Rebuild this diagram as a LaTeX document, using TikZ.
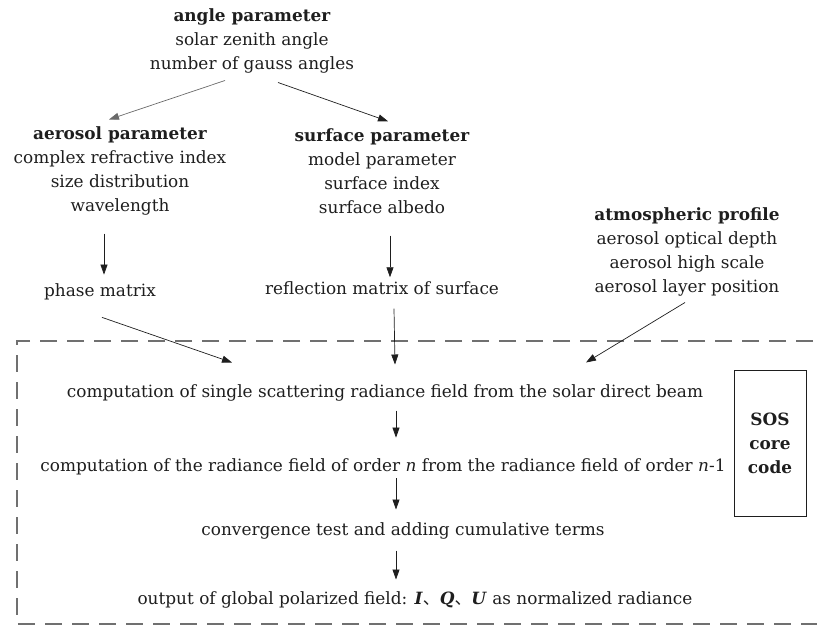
\documentclass[tikz,border=0pt]{standalone}
\usepackage{fontspec}
\setmainfont{DejaVu Serif}
\newfontfamily\cjk{Noto Sans CJK SC}
\usetikzlibrary{arrows.meta}
\definecolor{txt}{HTML}{1E1E1E}
\definecolor{dash}{HTML}{707070}
\definecolor{garr}{HTML}{6A6A6A}
\begin{document}
\begin{tikzpicture}[x=1pt,y=-1pt,
  every node/.style={inner sep=0pt,text=txt,font=\fontsize{16.9}{24}\selectfont,align=center},
  arr/.style={draw=txt,line width=0.7pt,-{Triangle[length=10pt,width=7pt]}},
  arrg/.style={arr,draw=garr,-{Triangle[length=10pt,width=7pt,fill=garr]}},
  dashbox/.style={draw=dash,line width=2pt,dash pattern=on 17pt off 10pt},
  sosbox/.style={draw=txt,line width=0.8pt,minimum width=72pt,minimum height=146pt}]
\useasboundingbox (0,0) rectangle (817,635);
\node (angle) at (252,41) {\textbf{angle parameter}\\solar zenith angle\\number of gauss angles};
\node (aero) at (120,171) {\textbf{aerosol parameter}\\complex refractive index\\size distribution\\wavelength};
\node (surf) at (382,171) {\textbf{surface parameter}\\model parameter\\surface index\\surface albedo};
\node (atm) at (687,252) {\textbf{atmospheric profile}\\aerosol optical depth\\aerosol high scale\\aerosol layer position};
\node (phase) at (100,292) {phase matrix};
\node (refl) at (382,288) {reflection matrix of surface};
\node (s1) at (385,393) {computation of single scattering radiance field from the solar direct beam};
\node (s2) at (383,467) {computation of the radiance field of order \textit{n} from the radiance field of order \textit{n}-1};
\node (s3) at (403,531) {convergence test and adding cumulative terms};
\node (s4) at (415,600) {output of global polarized field: \textbf{\textit{I}}{\cjk 、}\textbf{\textit{Q}}{\cjk 、}\textbf{\textit{U}} as normalized radiance};
\node[sosbox] (sos) at (770,443) {\textbf{SOS}\\\textbf{core}\\\textbf{code}};
\draw[dashbox] (840,341) -- (17,341) -- (17,624) -- (840,624);
\draw[arrg] ([xshift=-27pt,yshift=-7pt]angle.south) -- ([xshift=-11pt,yshift=7pt]aero.north);
\draw[arr] ([xshift=26pt,yshift=-9pt]angle.south) -- ([xshift=6pt,yshift=7pt]surf.north);
\draw[arr] ([xshift=-16pt,yshift=-18pt]aero.south) -- ([xshift=4pt,yshift=9pt]phase.north);
\draw[arr] ([xshift=8pt,yshift=-22pt]surf.south) -- ([xshift=8pt,yshift=4pt]refl.north);
\draw[arr] ([xshift=2pt,yshift=-17pt]phase.south) -- ([xshift=-153pt,yshift=22pt]s1.north);
\draw[arr] ([xshift=12pt,yshift=-14pt]refl.south) -- ([xshift=10pt,yshift=20pt]s1.north);
\draw[arr] ([xshift=-2pt,yshift=-6pt]atm.south) -- ([xshift=201pt,yshift=22pt]s1.north);
\draw[arr] ([xshift=11pt,yshift=-9pt]s1.south) -- ([xshift=13pt,yshift=21pt]s2.north);
\draw[arr] ([xshift=13pt,yshift=-3pt]s2.south) -- ([xshift=-7pt,yshift=13pt]s3.north);
\draw[arr] ([xshift=-7pt,yshift=-11pt]s3.south) -- ([xshift=-19pt,yshift=12pt]s4.north);
\end{tikzpicture}
\end{document}
